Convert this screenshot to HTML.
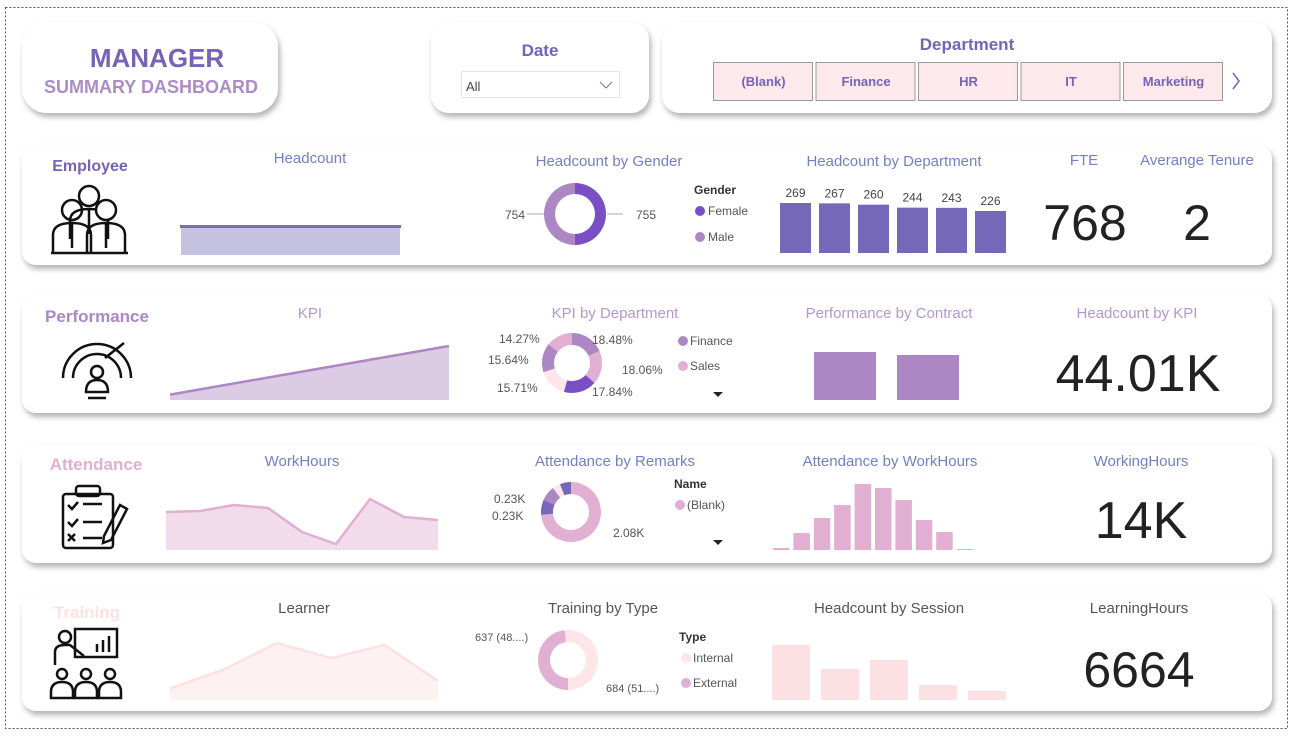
<!DOCTYPE html>
<html><head><meta charset="utf-8">
<style>
body{margin:0;background:#fff;width:1293px;height:733px;overflow:hidden;font-family:"Liberation Sans",sans-serif}
svg text{font-family:"Liberation Sans",sans-serif}
</style></head>
<body>
<svg id="s" width="1293" height="733" viewBox="0 0 1293 733" xmlns="http://www.w3.org/2000/svg">
<defs>
<filter id="sh" x="-5%" y="-20%" width="110%" height="150%"><feDropShadow dx="2" dy="4" stdDeviation="3" flood-color="#000" flood-opacity="0.3"/></filter>
</defs>
<rect x="5.5" y="7.5" width="1282" height="721" fill="none" stroke="#555" stroke-dasharray="2,2"/>
<g>
<rect x="22" y="22" width="256" height="91" rx="25" fill="#fff" filter="url(#sh)"/>
<text x="157" y="67" text-anchor="middle" font-size="26" font-weight="bold" fill="#7463b6">MANAGER</text>
<text x="151" y="93" text-anchor="middle" font-size="18" font-weight="bold" fill="#ae8ac7">SUMMARY DASHBOARD</text>
</g>
<g>
<rect x="431" y="22" width="218" height="91" rx="18" fill="#fff" filter="url(#sh)"/>
<text x="540" y="56" text-anchor="middle" font-size="17" font-weight="bold" fill="#7463b6">Date</text>
<rect x="461.5" y="71.5" width="158" height="26" fill="#fff" stroke="#e6e6e6"/>
<text x="466" y="91" font-size="13" fill="#444">All</text>
<path d="M600 82 L606 88 L612 82" fill="none" stroke="#777"/>
</g>
<g>
<rect x="662" y="22" width="610" height="91" rx="18" fill="#fff" filter="url(#sh)"/>
<text x="967" y="50" text-anchor="middle" font-size="17" font-weight="bold" fill="#7463b6">Department</text>
<g id="deptbtns"></g>
<path d="M1233 73 L1239 81 L1233 89" fill="none" stroke="#7463b6" stroke-width="1.5"/>
</g>
<g id="cards"></g>
</svg>
<script>
// ---- data ----
const deptButtons=["(Blank)","Finance","HR","IT","Marketing"];
const genderLabels=["Female","Male"];
const genderValues=[755,754];
const deptHeadcount=[269,267,260,244,243,226];
const kpiTrend=[1,10];
const kpiDeptLabels=["Finance","Sales","c","d","e","f"];
const kpiDeptValues=[18.48,18.06,17.84,15.71,15.64,14.27];
const contractValues=[48,45];
const workHours=[512,511,505,508,532,544,499,517,520];
const remarkValues=[2080,230,230,120,170];
const remarkLabels=["2.08K","0.23K","0.23K","",""];
const hoursHist=[2,17,32,45,66,62,50,30,18,1];
const learner=[6,16,30,22,29,10];
const typeValues=[637,684];
const typeLabels=["637 (48....)","684 (51....)"];
const sessionValues=[55,31,40,15,9];

const S=document.getElementById('s');
const NS="http://www.w3.org/2000/svg";
function mk(tag,attrs,parent,txt){const e=document.createElementNS(NS,tag);for(const k in attrs)e.setAttribute(k,attrs[k]);if(txt!==undefined)e.textContent=txt;(parent||S).appendChild(e);return e;}

// dept buttons
const db=document.getElementById('deptbtns');
deptButtons.forEach((d,i)=>{const x=713.5+i*102.5;
const g=mk('g',{},db);


mk('rect',{x:x,y:62.5,width:99,height:38,fill:'#fde9ec',stroke:'#999'},g);
mk('text',{x:x+50,y:86,'text-anchor':'middle','font-size':13,'font-weight':'bold',fill:'#7463b6'},g,d);});

const C=document.getElementById('cards');
const rows=[145,295,445,593];
const rowNames=['employee','performance','attendance','training'];
rows.forEach((y,i)=>{const r=mk('rect',{x:22,y:y,width:1250,height:i==0?120:118,rx:14,fill:'#fff',filter:'url(#sh)'},C);

});

function title(x,y,t,c,name){const e=mk('text',{x:x,y:y,'text-anchor':'middle','font-size':15,fill:c},C,t);

return e;}
function txt(x,y,t,o,name){const e=mk('text',Object.assign({x:x,y:y,'font-size':12,fill:'#555'},o||{}),C,t);

return e;}

// section labels
txt(90,171,'Employee',{'text-anchor':'middle','font-size':16,'font-weight':'bold',fill:'#7463b6'},'employee-label');
txt(97,322,'Performance',{'text-anchor':'middle','font-size':17,'font-weight':'bold',fill:'#ad86c4'},'performance-label');
txt(96,470,'Attendance',{'text-anchor':'middle','font-size':17,'font-weight':'bold',fill:'#e0afd1'},'attendance-label');
txt(87,618,'Training',{'text-anchor':'middle','font-size':17,'font-weight':'bold',fill:'#fde0e2'},'training-label');

// icons (simple line drawings)
const ic=mk('g',{fill:'none',stroke:'#111','stroke-width':2.5},C);


// employee
[[72,210],[89,196],[106,210]].forEach(([x,y])=>{mk('circle',{cx:x,cy:y,r:10,fill:'#fff'},ic);mk('path',{d:`M${x-19} ${y+43} V${y+25} Q${x-19} ${y+13} ${x} ${y+13} Q${x+19} ${y+13} ${x+19} ${y+25} V${y+43} M${x} ${y+14} V${y+38}`},ic);});
mk('line',{x1:51,y1:253,x2:128,y2:253},ic);
// performance gauge
mk('path',{d:'M63 378 A34 34 0 0 1 131 378'},ic);mk('path',{d:'M73 378 A24 24 0 0 1 121 378'},ic);
mk('line',{x1:105,y1:358,x2:124,y2:343},ic);mk('circle',{cx:97,cy:372,r:6},ic);mk('path',{d:'M86 392 Q86 380 97 380 Q108 380 108 392 Z'},ic);mk('line',{x1:88,y1:398,x2:106,y2:398},ic);
// attendance clipboard
mk('rect',{x:63,y:494,width:50,height:54,rx:3},ic);mk('rect',{x:76,y:486,width:24,height:10,rx:3},ic);
[504,522,538].forEach(y=>mk('line',{x1:83,y1:y,x2:102,y2:y},ic));
mk('path',{d:'M68 505 l4 4 l6 -7 M68 522 l4 4 l6 -7 M68 534 l7 7 M75 534 l-7 7'},ic);
mk('path',{d:'M104 536 L120 505 L127 509 L111 540 L103 543 Z'},ic);
// training
mk('circle',{cx:65,cy:637,r:6},ic);mk('rect',{x:75,y:629,width:42,height:28},ic);mk('path',{d:'M55 665 V652 Q55 645 65 645 L70 645 L84 656'},ic);
mk('path',{d:'M97 652 v-8 M103 652 v-12 M109 652 v-16'},ic);
[62,86,110].forEach(x=>{mk('circle',{cx:x,cy:674,r:5},ic);mk('path',{d:`M${x-11} 698 V692 Q${x-11} 682 ${x} 682 Q${x+11} 682 ${x+11} 692 V698 Z`},ic);});

// ---- Employee row ----
title(310,163,'Headcount','#7280c4','headcount-title');
{const g=mk('g',{},C);
mk('rect',{x:181,y:226,width:219,height:29,fill:'#c5c1e1'},g);mk('line',{x1:180,y1:226.5,x2:401,y2:226.5,stroke:'#7b6dbb','stroke-width':3},g);}
title(609,166,'Headcount by Gender','#7280c4','gender-chart-title');
function donut(cx,cy,R,r,vals,cols,start,name){const tot=vals.reduce((a,b)=>a+b,0);let a=start;
vals.forEach((v,i)=>{const a2=a+v/tot*2*Math.PI;const p=(A,rad)=>[cx+rad*Math.sin(A),cy-rad*Math.cos(A)];
const [x1,y1]=p(a,R),[x2,y2]=p(a2,R),[x3,y3]=p(a2,r),[x4,y4]=p(a,r);const l=(a2-a)>Math.PI?1:0;
const e=mk('path',{d:`M${x1} ${y1} A${R} ${R} 0 ${l} 1 ${x2} ${y2} L${x3} ${y3} A${r} ${r} 0 ${l} 0 ${x4} ${y4} Z`,fill:cols[i%cols.length]},C);

a=a2;});}
donut(575,214,31,20,genderValues,['#7a4fc6','#ad86c4'],0,'gender');
txt(636,219,String(genderValues[0]),{},'gender-female-value');txt(505,219,String(genderValues[1]),{},'gender-male-value');
mk('path',{d:'M607 214 H623 M527 214 H544',stroke:'#aaa'},C);
txt(694,194,'Gender',{'font-weight':'bold','font-size':12,fill:'#333'},'gender-legend-title');
[['#7a4fc6',211],['#ad86c4',237]].forEach(([c,y],i)=>{mk('circle',{cx:700,cy:y,r:5,fill:c},C);txt(708,y+4,genderLabels[i],{'font-size':12},'legend-'+genderLabels[i].toLowerCase());});
title(894,166,'Headcount by Department','#7280c4','dept-chart-title');
{const base=253,h=50/269;deptHeadcount.forEach((v,i)=>{const x=780+i*39,hh=v*h;
const b=mk('rect',{x:x,y:base-hh,width:31,height:hh,fill:'#7568b8'},C);


txt(x+15.5,base-hh-6,String(v),{'text-anchor':'middle','font-size':12,fill:'#444'},'dept-bar-label-'+i);});}
title(1084,165,'FTE','#7280c4','fte-title');title(1197,165,'Averange Tenure','#7280c4','tenure-title');
txt(1085,240,'768',{'text-anchor':'middle','font-size':50,fill:'#222'},'fte-value');
txt(1197,240,'2',{'text-anchor':'middle','font-size':50,fill:'#222'},'tenure-value');

// ---- Performance row ----
title(310,318,'KPI','#b596cc','kpi-title');
{const x0=170,x1=449,yb=400,y=v=>400-(v-0)/10*54+0;const a=mk('path',{d:`M${x0} ${y(kpiTrend[0])} L${x1} ${y(kpiTrend[1])} L${x1} ${yb} L${x0} ${yb} Z`,fill:'#dccbe5'},C);

mk('line',{x1:x0,y1:y(kpiTrend[0]),x2:x1,y2:y(kpiTrend[1]),stroke:'#ad86c4','stroke-width':2.5},C);}
title(615,318,'KPI by Department','#b596cc','kpi-dept-title');
donut(572,363,30,18,kpiDeptValues,['#ad86c4','#e0afd1','#7a4fc6','#fde5e8','#ad86c4','#e0afd1'],0,'kpi-dept');
[['18.48%',592,344],['18.06%',622,374],['17.84%',592,396],['15.71%',497,392],['15.64%',488,364],['14.27%',499,343]].forEach(([t,x,y],i)=>txt(x,y,t,{'font-size':12},'kpi-dept-label-'+i));
[['#ad86c4',341,'Finance'],['#e0afd1',366,'Sales']].forEach(([c,y,t])=>{mk('circle',{cx:683,cy:y,r:5,fill:c},C);txt(690,y+4,t,{'font-size':12},'legend-'+t.toLowerCase());});
mk('path',{d:'M713 392 h10 l-5 5 z',fill:'#222'},C);
title(889,318,'Performance by Contract','#b596cc','contract-title');
contractValues.forEach((v,i)=>{const b=mk('rect',{x:814+i*83,y:400-v,width:62,height:v,fill:'#ad86c4'},C);

});
title(1137,318,'Headcount by KPI','#b596cc','hc-kpi-title');
txt(1138,391,'44.01K',{'text-anchor':'middle','font-size':52,fill:'#222'},'hc-kpi-value');

// ---- Attendance row ----
title(302,466,'WorkHours','#7280c4','workhours-title');
{const x0=166,dx=(438-166)/(workHours.length-1);const pts=workHours.map((v,i)=>`${x0+i*dx} ${v}`);
const a=mk('path',{d:'M'+pts.join(' L')+` L438 550 L166 550 Z`,fill:'#f2dcec'},C);
mk('path',{d:'M'+pts.join(' L'),fill:'none',stroke:'#e0afd1','stroke-width':2.5},C);}
title(615,466,'Attendance by Remarks','#7280c4','remarks-title');
donut(571,512,30,18,remarkValues,['#e0afd1','#7568b8','#ad86c4','#fde5e8','#7568b8'],0,'remarks');
txt(613,537,remarkLabels[0],{'font-size':12},'remarks-label-0');txt(494,503,remarkLabels[1],{'font-size':12},'remarks-label-1');txt(492,520,remarkLabels[2],{'font-size':12},'remarks-label-2');
txt(674,488,'Name',{'font-weight':'bold','font-size':12,fill:'#333'},'remarks-legend-title');
mk('circle',{cx:680,cy:505,r:5,fill:'#e0afd1'},C);txt(687,509,'(Blank)',{'font-size':12},'legend-blank');
mk('path',{d:'M713 540 h10 l-5 5 z',fill:'#222'},C);
title(890,466,'Attendance by WorkHours','#7280c4','att-hours-title');
{const base=550,h=66/66;hoursHist.forEach((v,i)=>{const b=mk('rect',{x:773+i*20.4,y:base-v*h,width:16.5,height:v*h,fill:'#e0afd1'},C);

});}
title(1141,466,'WorkingHours','#7280c4','workinghours-title');
txt(1141,538,'14K',{'text-anchor':'middle','font-size':52,fill:'#222'},'workinghours-value');

// ---- Training row ----
title(304,613,'Learner','#555','learner-title');
{const x0=170,x1=438,dx=(x1-x0)/(learner.length-1),y=v=>700-v*1.9;const pts=learner.map((v,i)=>`${x0+i*dx} ${y(v)}`);
const a=mk('path',{d:'M'+pts.join(' L')+` L${x1} 700 L${x0} 700 Z`,fill:'#fef1f1'},C);
mk('path',{d:'M'+pts.join(' L'),fill:'none',stroke:'#fde0e0','stroke-width':2.5},C);}
title(603,613,'Training by Type','#555','type-title');
donut(568,660,30,18,typeValues,['#e0afd1','#fde5e8'],Math.PI,'type');
txt(475,641,typeLabels[0],{'font-size':11},'type-label-0');txt(606,692,typeLabels[1],{'font-size':11},'type-label-1');
txt(679,641,'Type',{'font-weight':'bold','font-size':12,fill:'#333'},'type-legend-title');
[['#fde5e8',658,'Internal'],['#e0afd1',683,'External']].forEach(([c,y,t])=>{mk('circle',{cx:686,cy:y,r:5,fill:c},C);txt(693,y+4,t,{'font-size':12},'legend-'+t.toLowerCase());});
title(889,613,'Headcount by Session','#555','session-title');
sessionValues.forEach((v,i)=>{const b=mk('rect',{x:772+i*49,y:700-v,width:38,height:v,fill:'#fde0e2'},C);

});
title(1139,613,'LearningHours','#555','learninghours-title');
txt(1139,687,'6664',{'text-anchor':'middle','font-size':50,fill:'#222'},'learninghours-value');
</script>
</body></html>
